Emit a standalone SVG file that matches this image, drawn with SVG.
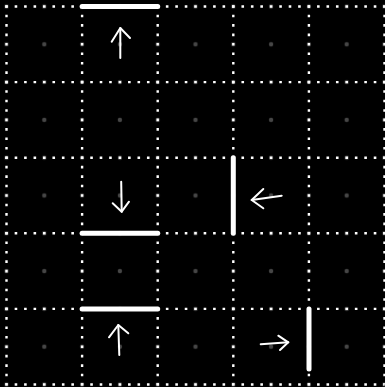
<svg xmlns="http://www.w3.org/2000/svg" width="385" height="387" viewBox="0 0 385 387">
<defs>
<style>
.grid{stroke:#fff;stroke-width:2.4;stroke-dasharray:2.6 6.85;fill:none}
.wall{stroke:#fff;stroke-width:5;stroke-linecap:round;fill:none}
.arr{stroke:#fff;stroke-width:2;stroke-linecap:round;stroke-linejoin:round;fill:none}
.pt{fill:#464646}
</style>
<pattern id="dots" x="6.5" y="6.5" width="37.8" height="37.8" patternUnits="userSpaceOnUse">
<circle cx="0" cy="0" r="2.2" class="pt"/>
<circle cx="37.8" cy="0" r="2.2" class="pt"/>
<circle cx="0" cy="37.8" r="2.2" class="pt"/>
<circle cx="37.8" cy="37.8" r="2.2" class="pt"/>
</pattern>
</defs>
<rect width="385" height="387" fill="#000"/>
<rect x="3" y="3" width="384" height="384" fill="url(#dots)"/>
<g id="grid" class="grid">
<line x1="5.2" y1="6.5" x2="384.5" y2="6.5"/>
<line x1="5.2" y1="82.1" x2="384.5" y2="82.1"/>
<line x1="5.2" y1="157.7" x2="384.5" y2="157.7"/>
<line x1="5.2" y1="233.3" x2="384.5" y2="233.3"/>
<line x1="5.2" y1="308.9" x2="384.5" y2="308.9"/>
<line x1="5.2" y1="384.5" x2="384.5" y2="384.5"/>
<line x1="6.5" y1="5.2" x2="6.5" y2="384.5"/>
<line x1="82.1" y1="5.2" x2="82.1" y2="384.5"/>
<line x1="157.7" y1="5.2" x2="157.7" y2="384.5"/>
<line x1="233.3" y1="5.2" x2="233.3" y2="384.5"/>
<line x1="308.9" y1="5.2" x2="308.9" y2="384.5"/>
<line x1="384.5" y1="5.2" x2="384.5" y2="384.5"/>
</g>
<g id="walls" class="wall">
<line x1="82.1" y1="6.5" x2="157.7" y2="6.5"/>
<line x1="82.1" y1="233.3" x2="157.7" y2="233.3"/>
<line x1="233.3" y1="157.7" x2="233.3" y2="233.3"/>
<line x1="82.1" y1="308.9" x2="157.7" y2="308.9"/>
<line x1="309" y1="308.9" x2="309" y2="369"/>
</g>
<g id="arrows" class="arr">
<g id="a1"><path d="M120.3,58 L120.3,28"/><path d="M111.7,41.7 L120.3,28 L130,38"/></g>
<g id="a2"><path d="M121.2,181.7 L121.7,211.7"/><path d="M112.7,203.3 L121.7,211.7 L129,201.7"/></g>
<g id="a3"><path d="M281.7,195.7 L251.7,200"/><path d="M263.3,189 L251.7,200 L263.3,208.3"/></g>
<g id="a4"><path d="M119.3,355 L118.3,325"/><path d="M109,337.3 L118.3,325 L128.3,333.3"/></g>
<g id="a5"><path d="M260.7,344.3 L288.3,342.3"/><path d="M278.3,335.7 L288.3,342.3 L280,350"/></g>
</g>
</svg>
